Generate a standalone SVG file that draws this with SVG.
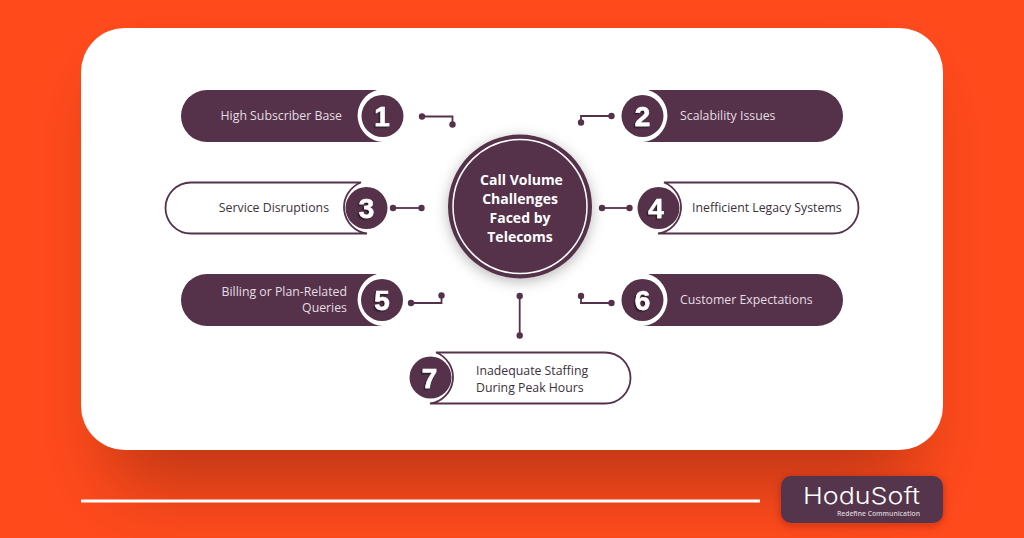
<svg xmlns="http://www.w3.org/2000/svg" width="1024" height="538" viewBox="0 0 1024 538">
<style>
.dark{fill:#55324a}
.out{fill:#fff;stroke:#55324a;stroke-width:1.8}
.t{font-family:"Open Sans","Lato",sans-serif;font-size:12.3px}
.l{fill:#e6dde3}
.d{fill:#3d3038}
.n{font-family:"Liberation Sans",sans-serif;font-weight:700;font-size:28px;fill:#fff;stroke:#fff;stroke-width:.5;text-anchor:middle;filter:url(#ns)}
.c{font-family:"Open Sans","Lato",sans-serif;font-weight:700;font-size:14px;fill:#fff;text-anchor:middle}
.ln{fill:none;stroke:#55324a;stroke-width:1.8}
.dot{fill:#55324a}
</style>
<defs>
<filter id="cs" filterUnits="userSpaceOnUse" x="-100" y="-100" width="1224" height="738"><feGaussianBlur stdDeviation="35"/></filter>
<filter id="os" x="-30%" y="-30%" width="160%" height="160%"><feDropShadow dx="0" dy="3" stdDeviation="7" flood-color="#000" flood-opacity="0.28"/></filter>
<filter id="ls" x="-20%" y="-30%" width="140%" height="170%"><feDropShadow dx="0" dy="2" stdDeviation="4" flood-color="#7a1d05" flood-opacity="0.4"/></filter>
<filter id="ns" x="-30%" y="-30%" width="160%" height="160%"><feDropShadow dx="-1.5" dy="1.5" stdDeviation="0.6" flood-color="#2b1522" flood-opacity="0.9"/></filter>
</defs>
<rect id="background" width="1024" height="538" fill="#ff4a1c"/>
<rect id="card-shadow" x="110" y="80" width="804" height="405" rx="30" fill="#000" fill-opacity=".25" filter="url(#cs)"/>
<rect id="card" x="81" y="28" width="862" height="422" rx="44" fill="#fff"/>
<rect id="rule" x="81" y="499.500" width="679" height="3" fill="#fff"/>

<g id="connectors">
<path class="ln" d="M422 116.500H452.500V124"/><circle class="dot" cx="422" cy="116.500" r="3.200"/><circle class="dot" cx="452.500" cy="124.500" r="3.200"/>
<path class="ln" d="M611.500 116H581V122"/><circle class="dot" cx="611.500" cy="116" r="3.200"/><circle class="dot" cx="581" cy="122.500" r="3.200"/>
<path class="ln" d="M393 208H421.500"/><circle class="dot" cx="393" cy="208" r="3.200"/><circle class="dot" cx="421.500" cy="208" r="3.200"/>
<path class="ln" d="M602 208H629"/><circle class="dot" cx="602" cy="208" r="3.200"/><circle class="dot" cx="629.500" cy="208" r="3.200"/>
<path class="ln" d="M411 303H441.500V296"/><circle class="dot" cx="411" cy="303" r="3.200"/><circle class="dot" cx="441.500" cy="295.500" r="3.200"/>
<path class="ln" d="M581 296V303H611"/><circle class="dot" cx="581" cy="296" r="3.200"/><circle class="dot" cx="611.500" cy="303" r="3.200"/>
<path class="ln" d="M519.700 296V335" stroke-width="2.200"/><circle class="dot" cx="519.700" cy="296" r="3.200"/><circle class="dot" cx="519.700" cy="335.500" r="3.200"/>
</g>

<g id="center">
<circle cx="520" cy="206.500" r="72" class="dark" filter="url(#os)"/>
<circle cx="520" cy="206.500" r="67" fill="none" stroke="#fff" stroke-width="1.500"/>
<text class="c" x="521.500" y="184.500">Call Volume</text>
<text class="c" x="520" y="203.500">Challenges</text>
<text class="c" x="520" y="222.500">Faced by</text>
<text class="c" x="520" y="241.500">Telecoms</text>
</g>

<g id="node1">
<path class="dark" d="M207 90H377A26.500 26.500 0 0 0 383 142H207A26 26 0 0 1 207 90Z"/>
<circle class="dark" cx="382.500" cy="116" r="21"/>
<text class="n" x="382" y="126">1</text>
<text class="t l" x="342" y="119.500" text-anchor="end">High Subscriber Base</text>
</g>
<g id="node3">
<path class="out" d="M191 182.500H361A26.500 26.500 0 0 0 367 233.500H191A25.500 25.500 0 0 1 191 182.500Z"/>
<circle class="dark" cx="366.500" cy="208" r="21"/>
<text class="n" x="366.500" y="218">3</text>
<text class="t d" x="329" y="211.500" text-anchor="end">Service Disruptions</text>
</g>
<g id="node5">
<path class="dark" d="M207 274H377A26.500 26.500 0 0 0 383 326H207A26 26 0 0 1 207 274Z"/>
<circle class="dark" cx="382" cy="300" r="21"/>
<text class="n" x="382" y="310">5</text>
<text class="t l" x="347" y="295.500" text-anchor="end">Billing or Plan-Related</text>
<text class="t l" x="347" y="312" text-anchor="end">Queries</text>
</g>
<g id="node2">
<path class="dark" d="M817 90H648A26.500 26.500 0 0 1 642 142H817A26 26 0 0 0 817 90Z"/>
<circle class="dark" cx="642.500" cy="116" r="21"/>
<text class="n" x="642.500" y="126">2</text>
<text class="t l" x="680" y="119.500">Scalability Issues</text>
</g>
<g id="node4">
<path class="out" d="M833 182.500H664A26.500 26.500 0 0 1 658 233.500H833A25.500 25.500 0 0 0 833 182.500Z"/>
<circle class="dark" cx="658.500" cy="208" r="21"/>
<text class="n" x="656" y="218">4</text>
<text class="t d" x="692" y="211.500">Inefficient Legacy Systems</text>
</g>
<g id="node6">
<path class="dark" d="M817 274H648A26.500 26.500 0 0 1 642 326H817A26 26 0 0 0 817 274Z"/>
<circle class="dark" cx="642.500" cy="300" r="21"/>
<text class="n" x="642.500" y="310">6</text>
<text class="t l" x="680" y="303.500">Customer Expectations</text>
</g>
<g id="node7">
<path class="out" d="M605 352.500H436A26.500 26.500 0 0 1 430 403.500H605A25.500 25.500 0 0 0 605 352.500Z"/>
<circle class="dark" cx="430.500" cy="377.500" r="21"/>
<text class="n" x="429.500" y="387.500">7</text>
<text class="t d" x="476" y="375">Inadequate Staffing</text>
<text class="t d" x="476" y="391.500">During Peak Hours</text>
</g>

<g id="logo">
<rect x="781" y="476" width="162" height="47" rx="10" fill="#55344c" filter="url(#ls)"/>
<text x="803" y="504" font-family="Inter,'Open Sans',sans-serif" font-weight="300" font-size="23px" textLength="117" lengthAdjust="spacingAndGlyphs" fill="#fff">HoduSoft</text>
<text x="920" y="515.500" text-anchor="end" font-family="'Open Sans',sans-serif" font-weight="600" font-size="6.800px" fill="#d8ced6">Redefine Communication</text>
</g>
</svg>
